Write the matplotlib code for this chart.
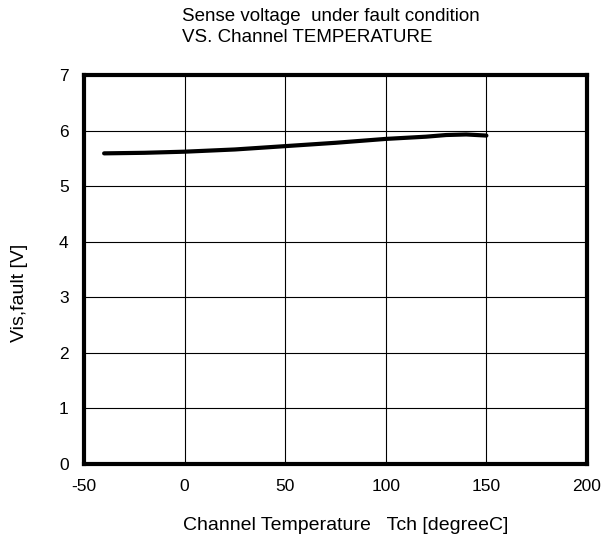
import matplotlib
matplotlib.use("Agg")
import matplotlib.pyplot as plt

# data
temp = [-40, -20, 0, 25, 50, 75, 100, 120, 130, 140, 150]
vis_fault = [5.59, 5.60, 5.62, 5.66, 5.72, 5.78, 5.85, 5.89, 5.92, 5.93, 5.91]

x_ticks = [-50, 0, 50, 100, 150, 200]
y_ticks = [0, 1, 2, 3, 4, 5, 6, 7]

plt.rcParams['font.family'] = ['Liberation Sans', 'DejaVu Sans']
plt.rcParams['axes.unicode_minus'] = False

W, H = 607, 542
fig = plt.figure(figsize=(W / 100, H / 100), dpi=100)
ax = fig.add_axes([84 / W, 1 - 464 / H, (587 - 84) / W, (464 - 75) / H])

ax.plot(temp, vis_fault, color='black', linewidth=3, solid_capstyle='round')

ax.set_xlim(-50, 200)
ax.set_ylim(0, 7)
ax.set_xticks(x_ticks)
ax.set_yticks(y_ticks)
ax.grid(True, color='black', linewidth=0.8)
ax.tick_params(length=0, labelsize=12.5, pad=11)
for s in ax.spines.values():
    s.set_linewidth(3)
    s.set_color('black')

# axis labels and title placed in figure pixels
fig.text(346 / W, 1 - 526 / H, 'Channel Temperature   Tch [degreeC]',
         fontsize=14, ha='center', va='center')
fig.text(20 / W, 1 - 293 / H, 'Vis,fault [V]', fontsize=14,
         rotation=90, ha='center', va='center')
fig.text(182 / W, 1 - 8 / H, 'Sense voltage  under fault condition\nVS. Channel TEMPERATURE',
         fontsize=13.5, ha='left', va='top', linespacing=1.33)

fig.savefig('out.png', dpi=100)
